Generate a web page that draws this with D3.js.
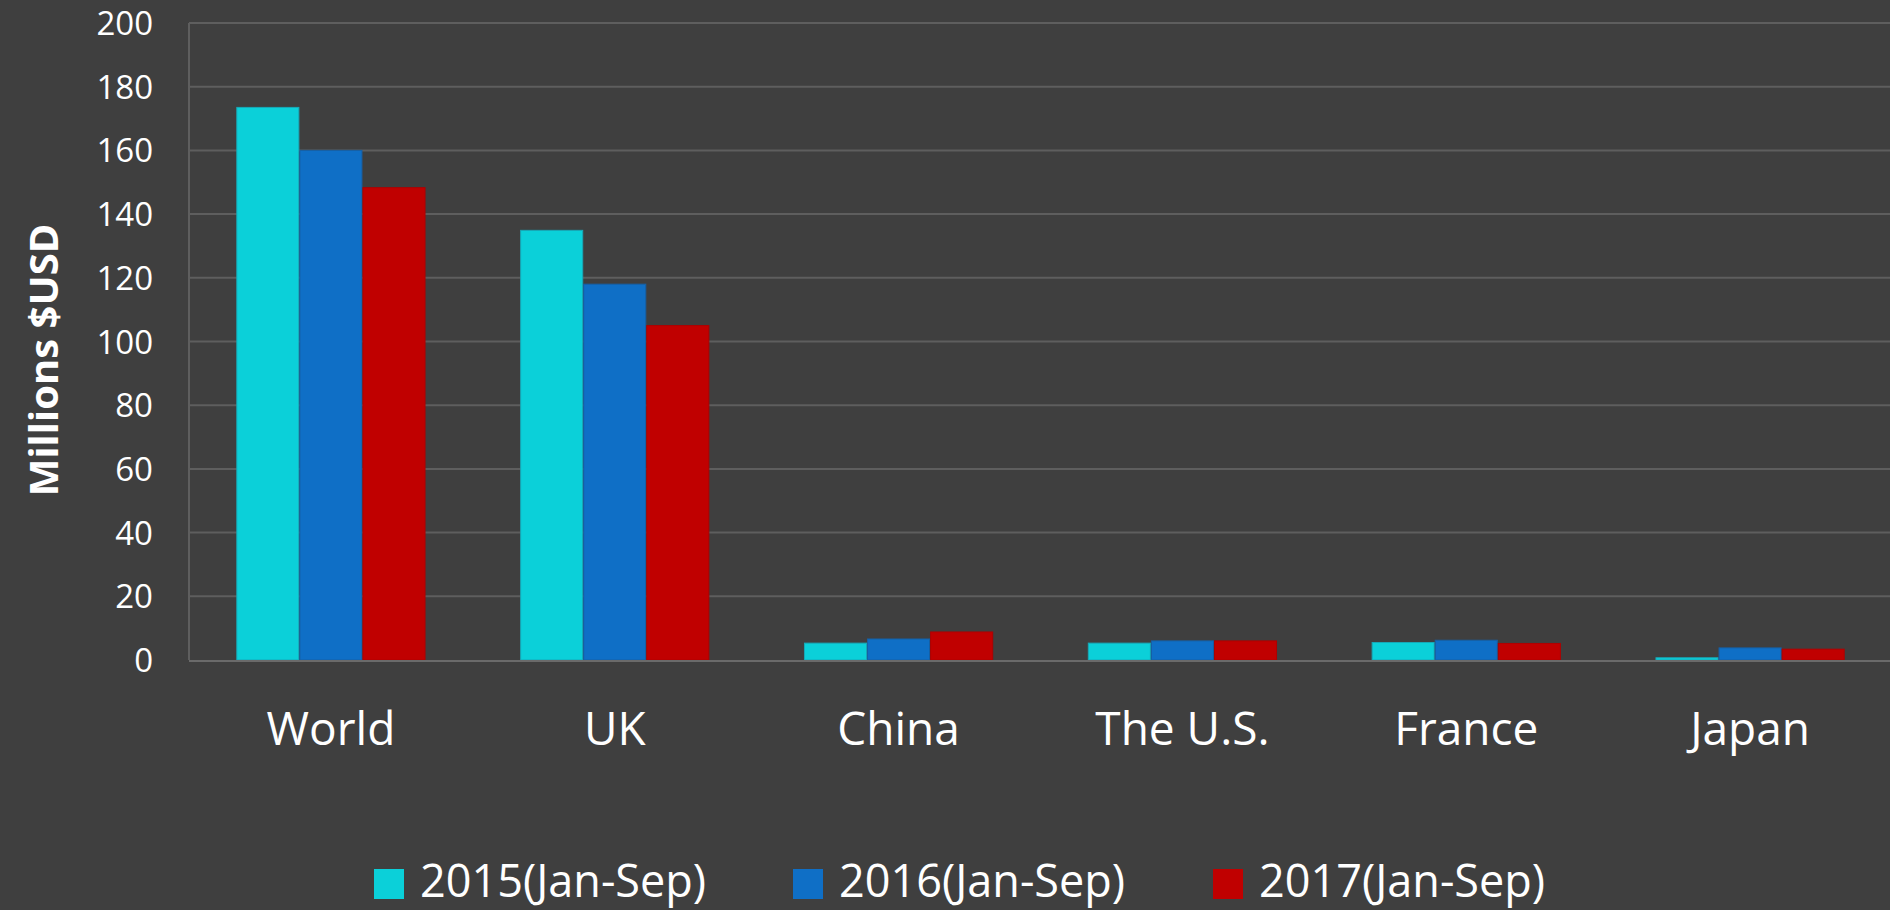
<!DOCTYPE html>
<html>
<head>
<meta charset="utf-8">
<script src="https://cdn.jsdelivr.net/npm/d3@7"></script>
<style>
  html, body { margin: 0; padding: 0; background: #3f3f3f; overflow: hidden; }
  svg { display: block; }
</style>
</head>
<body>
<svg id="chart" width="1890" height="910"></svg>
<script>
// Categories, series and tick labels
const categories = ["World", "UK", "China", "The U.S.", "France", "Japan"];
const seriesNames = ["2015(Jan-Sep)", "2016(Jan-Sep)", "2017(Jan-Sep)"];
const values2015 = [173.5, 134.9, 5.3, 5.3, 5.5, 0.7];
const values2016 = [160.0, 118.0, 6.6, 6.0, 6.2, 3.8];
const values2017 = [148.3, 105.0, 8.8, 6.0, 5.2, 3.4];
const yTicks = [0, 20, 40, 60, 80, 100, 120, 140, 160, 180, 200];
const yTitle = "Millions $USD";

const seriesValues = [values2015, values2016, values2017];
const colors = ["#0bd0d9", "#0f6fc6", "#c00000"];
const strokes = ["#17a9b8", "#1660a6", "#b00000"];

const svg = d3.select("#chart");
const W = 1890, H = 910;
svg.append("rect").attr("width", W).attr("height", H).attr("fill", "#3f3f3f");

const plotLeft = 189, plotRight = 1892, plotTop = 23, plotBottom = 660;

const x = d3.scaleBand().domain(categories).range([plotLeft, plotRight])
  .paddingInner(1 / 3).paddingOuter(1 / 6);
const xs = d3.scaleBand().domain(seriesNames).range([0, x.bandwidth()]);
const y = d3.scaleLinear().domain([0, 200]).range([plotBottom, plotTop]);

// Horizontal gridlines
svg.append("g").selectAll("line").data(yTicks.filter(t => t > 0)).join("line")
  .attr("x1", plotLeft).attr("x2", W)
  .attr("y1", d => y(d)).attr("y2", d => y(d))
  .attr("stroke", "#5e5e5e").attr("stroke-width", 2);

// Left axis line
svg.append("line").attr("x1", plotLeft).attr("x2", plotLeft)
  .attr("y1", plotTop).attr("y2", plotBottom)
  .attr("stroke", "#5e5e5e").attr("stroke-width", 2);

// Y axis tick labels
const yAxis = d3.axisLeft(y).tickValues(yTicks).tickSize(0).tickPadding(0);
const gy = svg.append("g").attr("transform", `translate(${153},0)`).call(yAxis);
gy.select(".domain").remove();
gy.selectAll("text")
  .attr("fill", "#ffffff")
  .style("font-family", "'Open Sans', sans-serif")
  .style("font-size", "33px")
  .attr("dy", "0.35em");

// Bars
const rows = categories.map((c, i) => ({ c, vals: seriesNames.map((s, k) => ({ s, k, v: seriesValues[k][i] })) }));
const groups = svg.append("g").selectAll("g").data(rows).join("g")
  .attr("transform", d => `translate(${x(d.c)},0)`);
groups.selectAll("rect").data(d => d.vals).join("rect")
  .attr("x", d => xs(d.s) + 0.5)
  .attr("width", xs.bandwidth() - 1)
  .attr("y", d => y(d.v))
  .attr("height", d => y(0) - y(d.v))
  .attr("fill", d => colors[d.k])
  .attr("stroke", d => strokes[d.k])
  .attr("stroke-width", 1);

// Bottom axis line
svg.append("line").attr("x1", plotLeft).attr("x2", W)
  .attr("y1", plotBottom + 1).attr("y2", plotBottom + 1)
  .attr("stroke", "#6a6a6a").attr("stroke-width", 2);

// Category labels
const xAxis = d3.axisBottom(x).tickSize(0).tickPadding(0);
const gx = svg.append("g").attr("transform", `translate(0,${745})`).call(xAxis);
gx.select(".domain").remove();
gx.selectAll("text")
  .attr("fill", "#ffffff")
  .attr("dy", 0)
  .attr("y", 0)
  .style("font-family", "'Open Sans', sans-serif")
  .style("font-size", "46px");

// Y axis title
svg.append("text")
  .attr("transform", "translate(58,360) rotate(-90)")
  .attr("text-anchor", "middle")
  .attr("fill", "#ffffff")
  .style("font-family", "'Open Sans', sans-serif")
  .style("font-weight", "700")
  .style("font-size", "40px")
  .text(yTitle);

// Legend
const legendX = [374, 793, 1213];
const legend = svg.append("g").selectAll("g").data(seriesNames).join("g")
  .attr("transform", (d, i) => `translate(${legendX[i]},0)`);
legend.append("rect")
  .attr("x", 0).attr("y", 869).attr("width", 30).attr("height", 30)
  .attr("fill", (d, i) => colors[i]);
legend.append("text")
  .attr("x", 46).attr("y", 897)
  .attr("fill", "#ffffff")
  .style("font-family", "'Open Sans', sans-serif")
  .style("font-size", "45px")
  .text(d => d);
</script>
</body>
</html>
